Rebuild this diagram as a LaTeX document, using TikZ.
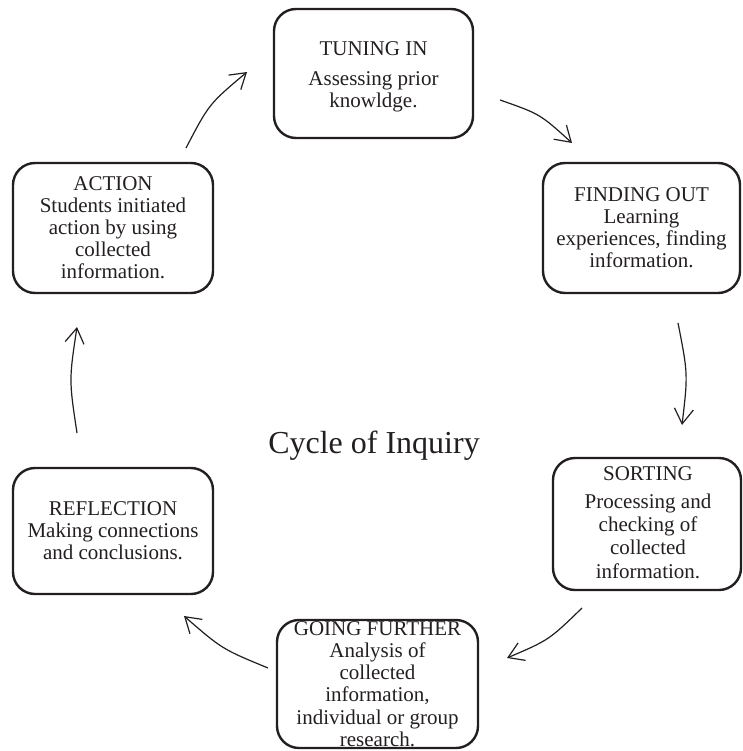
\documentclass[tikz,border=0pt]{standalone}
\usepackage{fontspec}
\setmainfont{Liberation Serif}
\usetikzlibrary{arrows.meta}
\definecolor{ink}{HTML}{231F20}
\begin{document}
\begin{tikzpicture}[x=1pt,y=-1pt,
  box/.style={draw=ink, line width=2.4pt, rounded corners=22pt, inner sep=0pt},
  txt/.style={inner sep=0pt, align=center, text=ink,
    font=\fontsize{21pt}{22pt}\selectfont},
  arr/.style={draw=ink, line width=1.2pt,
    -{Straight Barb[length=15pt,width=19pt,line width=1.2pt]}},
  title/.style={text=ink, font=\fontsize{32pt}{36pt}\selectfont}]
\useasboundingbox (0,0) rectangle (742,751);

% boxes
\node[box, minimum width=199pt, minimum height=129pt] (tune) at (373.5,73.5) {};
\node[box, minimum width=197pt, minimum height=130pt] (find) at (641.5,228) {};
\node[box, minimum width=188pt, minimum height=132pt] (sort) at (647,524) {};
\node[box, minimum width=201pt, minimum height=128pt] (further) at (377.5,684) {};
\node[box, minimum width=200pt, minimum height=126pt] (reflect) at (113,531) {};
\node[box, minimum width=200pt, minimum height=130pt] (action) at (113,228) {};

% texts
\node[txt] (tunetxt) at (373.5,76.4)
  {TUNING IN\\[8pt]Assessing prior\\knowldge.};
\node[txt] (findtxt) at (641.5,228)
  {FINDING OUT\\Learning\\experiences, finding\\information.};
\node[txt, font=\fontsize{21pt}{23.3pt}\selectfont] (sorttxt) at (648,522.7)
  {SORTING\\[4pt]Processing and\\checking of\\collected\\information.};
\node[txt, font=\fontsize{21pt}{22.2pt}\selectfont] (furthertxt) at (377.5,684)
  {GOING FURTHER\\Analysis of\\collected\\information,\\individual or group\\research.};
\node[txt] (reflecttxt) at (113,531)
  {REFLECTION\\Making connections\\and conclusions.};
\node[txt] (actiontxt) at (113,228)
  {ACTION\\Students initiated\\action by using\\collected\\information.};

\node[title] (cycle) at (374,446) {Cycle of Inquiry};

% connectors
\coordinate (a1s) at (186,148); \coordinate (a1c) at (209,104); \coordinate (a1e) at (247,72);
\coordinate (a2s) at (500,100); \coordinate (a2c) at (540,114); \coordinate (a2e) at (572,143);
\coordinate (a3s) at (678,323); \coordinate (a3c) at (688,374); \coordinate (a3e) at (682,425);
\coordinate (a4s) at (582,608); \coordinate (a4c) at (549,640); \coordinate (a4e) at (507,658);
\coordinate (a5s) at (268,668); \coordinate (a5c) at (222,649); \coordinate (a5e) at (184,616);
\coordinate (a6s) at (77,433);  \coordinate (a6c) at (69,380);  \coordinate (a6e) at (77,327);

\draw[arr] (a1s) .. controls (a1c) .. (a1e);
\draw[arr] (a2s) .. controls (a2c) .. (a2e);
\draw[arr] (a3s) .. controls (a3c) .. (a3e);
\draw[arr] (a4s) .. controls (a4c) .. (a4e);
\draw[arr] (a5s) .. controls (a5c) .. (a5e);
\draw[arr] (a6s) .. controls (a6c) .. (a6e);
\end{tikzpicture}
\end{document}
